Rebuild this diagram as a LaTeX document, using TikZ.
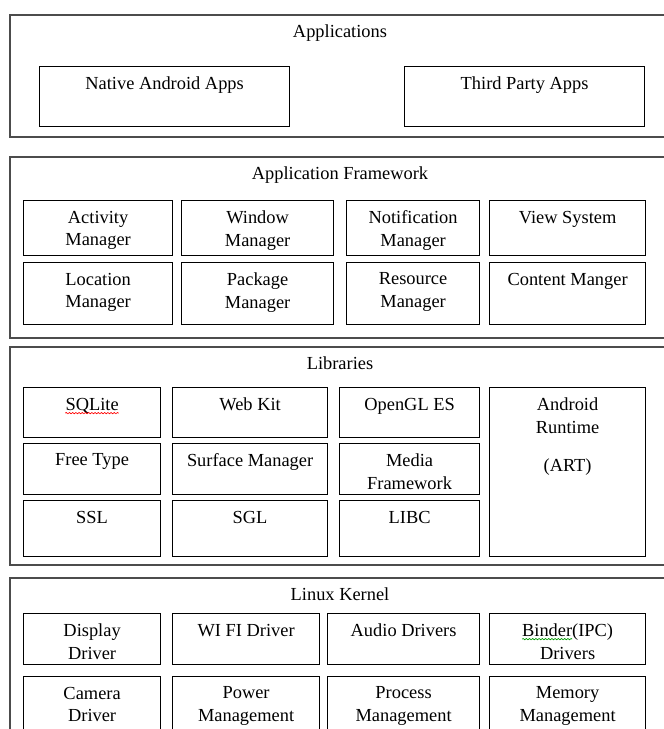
\documentclass[tikz,border=0pt]{standalone}
\usepackage{fontspec}
\setmainfont{Liberation Serif}
\usepackage{tikz}
\usetikzlibrary{positioning,decorations.pathmorphing}
\tikzstyle{layer}=[draw=black!70, line width=1.5pt, anchor=north west, inner sep=0pt]
\tikzstyle{blk}=[draw=black, line width=0.9pt, anchor=north west, inner sep=0pt]
\tikzstyle{lab}=[align=center, inner sep=0pt, font=\fontsize{13.8}{16.8}\selectfont]
\tikzstyle{squig}=[decorate, decoration={snake, amplitude=0.5pt, segment length=2.4pt}, line width=0.5pt]
\newcommand{\archbox}[7]{% style, name, x1, y1, x2, y2, text
  \node[#1, minimum width={(#5-#3)*0.75pt}, minimum height={(#6-#4)*0.75pt}] (#2) at (#3,#4) {};
  \node[lab, below=8pt of #2.north] (#2t) {#7};
}

\begin{document}
\begin{tikzpicture}[x=0.75pt, y=-0.75pt]
        \useasboundingbox (0,0) rectangle (664,729);
        \clip (0,0) rectangle (664,729);
        % applications
        \archbox{layer}{app}{9}{14}{669}{136}{Applications}
        \archbox{blk}{nat}{39}{66}{289}{126}{Native Android Apps}
        \archbox{blk}{thp}{404}{66}{644}{126}{Third Party Apps}
        % application framework
        \archbox{layer}{fw}{9}{156}{669}{337}{Application Framework}
        \archbox{blk}{act}{23}{200}{172}{255}{Activity\\Manager}
        \archbox{blk}{win}{181}{200}{333}{255}{Window\\Manager}
        \archbox{blk}{noti}{346}{200}{479}{255}{Notification\\Manager}
        \archbox{blk}{view}{489}{200}{645}{255}{View System}
        \archbox{blk}{loc}{23}{262}{172}{324}{Location\\Manager}
        \archbox{blk}{pkg}{181}{262}{333}{324}{Package\\Manager}
        \archbox{blk}{res}{346}{262}{479}{324}{Resource\\Manager}
        \archbox{blk}{cont}{489}{262}{645}{324}{Content Manger}
        % libraries
        \archbox{layer}{lib}{9}{346}{669}{564}{Libraries}
        \archbox{blk}{sql}{23}{387}{160}{437}{SQLite}
        \archbox{blk}{web}{172}{387}{327}{437}{Web Kit}
        \archbox{blk}{ogl}{339}{387}{479}{437}{OpenGL ES}
        \archbox{blk}{art}{489}{387}{645}{556}{Android\\Runtime\\[12pt](ART)}
        \archbox{blk}{ft}{23}{443}{160}{494}{Free Type}
        \archbox{blk}{surf}{172}{443}{327}{494}{Surface Manager}
        \archbox{blk}{media}{339}{443}{479}{494}{Media\\Framework}
        \archbox{blk}{ssl}{23}{500}{160}{556}{SSL}
        \archbox{blk}{sgl}{172}{500}{327}{556}{SGL}
        \archbox{blk}{libc}{339}{500}{479}{556}{LIBC}
        % linux kernel
        \archbox{layer}{krn}{9}{577}{669}{760}{Linux Kernel}
        \archbox{blk}{disp}{23}{613}{160}{664}{Display\\Driver}
        \archbox{blk}{wifi}{172}{613}{319}{664}{WI FI Driver}
        \archbox{blk}{audio}{327}{613}{479}{664}{Audio Drivers}
        \archbox{blk}{bind}{489}{613}{645}{664}{Binder(IPC)\\Drivers}
        \archbox{blk}{cam}{23}{676}{160}{745}{Camera\\Driver}
        \archbox{blk}{pow}{172}{676}{319}{745}{Power\\Management}
        \archbox{blk}{proc}{327}{676}{479}{745}{Process\\Management}
        \archbox{blk}{mem}{489}{676}{645}{745}{Memory\\Management}
        % spell check marks
        \draw[squig, red] ([yshift=-11.6pt]sqlt.north west) -- ([yshift=-11.6pt]sqlt.north east);
        \draw[squig, green!60!black] ([xshift=-34.1pt,yshift=-11.6pt]bindt.north) -- ([xshift=3.4pt,yshift=-11.6pt]bindt.north);
\end{tikzpicture}
\end{document}
